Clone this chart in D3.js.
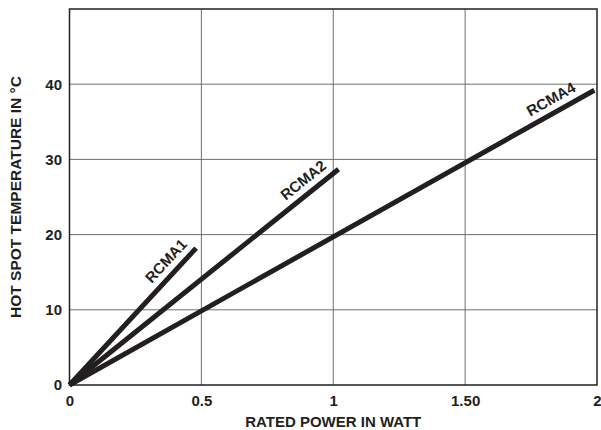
<!DOCTYPE html>
<html>
<head>
<meta charset="utf-8">
<script src="https://cdn.jsdelivr.net/npm/d3@7"></script>
<style>
  body { margin: 0; background: #fff; }
  text { font-family: "Liberation Sans", Arial, sans-serif; font-weight: bold; fill: #231f20; }
</style>
</head>
<body>
<div id="chart"></div>
<script>
// Hot spot temperature vs rated power, one line per resistor type
const seriesNames = ['RCMA1', 'RCMA2', 'RCMA4'];
const seriesPower = [[0, 0.48], [0, 1.02], [0, 1.99]];
const seriesTemp = [[0, 18.2], [0, 28.7], [0, 39.2]];
const labelAlong = [0.84, 0.9, 0.93];

const xTicks = [0, 0.5, 1, 1.5, 2];
const xTickLabels = ['0', '0.5', '1', '1.50', '2'];
const yTicks = [0, 10, 20, 30, 40];

const W = 601, H = 430;
const margin = { top: 9, right: 4, bottom: 45, left: 69.5 };
const width = W - margin.left - margin.right;
const height = H - margin.top - margin.bottom;

const svg = d3.select('#chart').append('svg')
  .attr('width', W).attr('height', H);
const g = svg.append('g')
  .attr('transform', `translate(${margin.left},${margin.top})`);

const x = d3.scaleLinear().domain([0, 2]).range([0, width]);
const y = d3.scaleLinear().domain([0, 50]).range([height, 0]);

// grid
g.selectAll('.vgrid').data(xTicks.slice(1, -1)).enter().append('line')
  .attr('x1', d => x(d)).attr('x2', d => x(d))
  .attr('y1', 0).attr('y2', height)
  .attr('stroke', '#6d6e71').attr('stroke-width', 1);
g.selectAll('.hgrid').data(yTicks.slice(1)).enter().append('line')
  .attr('x1', 0).attr('x2', width)
  .attr('y1', d => y(d)).attr('y2', d => y(d))
  .attr('stroke', '#6d6e71').attr('stroke-width', 1);

// frame
g.append('rect')
  .attr('width', width).attr('height', height)
  .attr('fill', 'none').attr('stroke', '#231f20').attr('stroke-width', 1.5);

// tick labels
g.append('g')
  .attr('transform', `translate(0,${height})`)
  .call(d3.axisBottom(x).tickValues(xTicks).tickSize(0).tickPadding(10)
    .tickFormat((d, i) => xTickLabels[i]))
  .call(a => a.select('.domain').remove())
  .selectAll('text').style('font-size', '15px').attr('fill', '#231f20');

g.append('g')
  .call(d3.axisLeft(y).tickValues(yTicks).tickSize(0).tickPadding(7.5))
  .call(a => a.select('.domain').remove())
  .selectAll('text').style('font-size', '15px').attr('fill', '#231f20');

// axis titles
g.append('text')
  .attr('x', width / 2).attr('y', height + 41.5)
  .attr('text-anchor', 'middle')
  .style('font-size', '15px')
  .text('RATED POWER IN WATT');

g.append('text')
  .attr('transform', `translate(${-54},${height / 2}) rotate(-90)`)
  .attr('text-anchor', 'middle')
  .attr('dy', '0.35em')
  .style('font-size', '15.5px')
  .text('HOT SPOT TEMPERATURE IN °C');

// lines
const line = d3.line().x(d => x(d[0])).y(d => y(d[1]));
seriesNames.forEach((name, i) => {
  const pts = seriesPower[i].map((p, j) => [p, seriesTemp[i][j]]);
  g.append('path')
    .datum(pts)
    .attr('d', line)
    .attr('fill', 'none')
    .attr('stroke', '#231f20')
    .attr('stroke-width', 5);

  // label sits above the line, rotated along it
  const x0 = x(pts[0][0]), y0 = y(pts[0][1]);
  const x1 = x(pts[1][0]), y1 = y(pts[1][1]);
  const len = Math.hypot(x1 - x0, y1 - y0);
  const ux = (x1 - x0) / len, uy = (y1 - y0) / len;
  const ang = Math.atan2(y1 - y0, x1 - x0) * 180 / Math.PI;
  const t = labelAlong[i] * len;
  const off = 13.5;
  const lx = x0 + ux * t + uy * off;
  const ly = y0 + uy * t - ux * off;
  g.append('text')
    .attr('transform', `translate(${lx},${ly}) rotate(${ang})`)
    .attr('text-anchor', 'middle')
    .attr('dy', '0.35em')
    .style('font-size', '15px')
    .text(name);
});
</script>
</body>
</html>
